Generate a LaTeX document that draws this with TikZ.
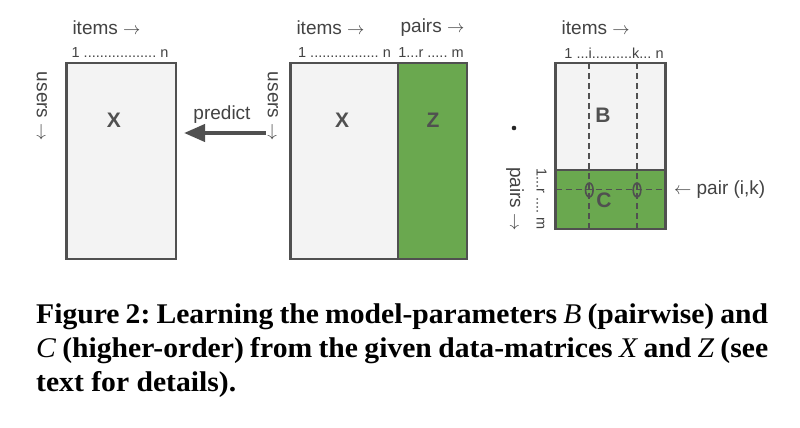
\documentclass[tikz,border=0pt]{standalone}
\usepackage{fontspec}
\setmainfont{Liberation Serif}
\setsansfont{Liberation Sans}
\newfontfamily\capfont[FakeStretch=1.04]{Liberation Serif}
\usetikzlibrary{arrows.meta}
\definecolor{edgec}{HTML}{505050}
\definecolor{lgray}{HTML}{F3F3F3}
\definecolor{mgreen}{HTML}{6AA84F}
\definecolor{txtc}{HTML}{434343}
\newcommand{\ra}{\ensuremath{\rightarrow}}
\newcommand{\la}{\ensuremath{\leftarrow}}
\frenchspacing
\begin{document}
\begin{tikzpicture}[x=1pt,y=-1pt,
  mat/.style={draw=edgec, line width=2.8pt, inner sep=0pt, outer sep=0pt},
  lbl/.style={font=\sffamily\fontsize{19}{20}\selectfont, text=txtc, inner sep=0pt},
  idx/.style={font=\sffamily\fontsize{14.5}{15}\selectfont, text=txtc, inner sep=0pt},
  big/.style={font=\sffamily\bfseries\fontsize{21}{22}\selectfont, text=edgec, inner sep=0pt},
  dsh/.style={draw=edgec, line width=1.7pt, dash pattern=on 6pt off 4pt},
  capl/.style={font=\capfont\bfseries\fontsize{28.5}{33}\selectfont, anchor=base west, inner sep=0pt}]
\useasboundingbox (0,0) rectangle (800,428);
\fill[white] (0,0) rectangle (800,428);

% left matrix
\node[mat, fill=lgray, minimum width=109.3pt, minimum height=196pt] (XL) at (121.35,161) {};
\node[big] (XLt) at (114,120) {X};
\node[lbl] (itL) at (106.5,28) {items \ra};
\node[idx] (ixL) at (120,53) {1 .................. n};
\node[lbl, rotate=-90] (usL) at (42,106.5) {users \ra};

% middle matrix
\node[mat, fill=lgray, minimum width=107.3pt, minimum height=196pt] (XM) at (344.35,161) {};
\node[mat, fill=mgreen, minimum width=69pt, minimum height=196pt] (ZM) at (432.5,161) {};
\node[big] (XMt) at (342,120) {X};
\node[big] (ZMt) at (433,120) {Z};
\node[lbl] (itM) at (330.5,28) {items \ra};
\node[lbl] (paM) at (432.5,28) {pairs \ra};
\node[idx] (ixM) at (344.5,53) {1 ................. n};
\node[idx] (pxM) at (431,53) {1...r ..... m};
\node[lbl, rotate=-90] (usM) at (273,106.5) {users \ra};

% predict arrow
\coordinate (predS) at (266,133);
\draw[edgec, line width=4pt, -{Triangle[length=21pt, width=17pt]}] (predS) -- (XL.east |- predS) [shorten >=8pt];
\node[lbl] (pred) at (222,115) {predict};

% right matrix
\node[mat, fill=lgray, minimum width=110pt, minimum height=107pt] (BR) at (610.7,116.5) {};
\node[mat, fill=mgreen, minimum width=110pt, minimum height=59pt] (CR) at (610.7,199.5) {};
\coordinate (vi) at (589.3,0);
\coordinate (vk) at (637,0);
\coordinate (hr) at (0,189.5);
\draw[dsh] (vi |- BR.north) -- (vi |- CR.south);
\draw[dsh] (vk |- BR.north) -- (vk |- CR.south);
\draw[dsh] (CR.west |- hr) -- (CR.east |- hr);
\draw[edgec, line width=1.6pt] (589.3,190) ellipse [x radius=3.8pt, y radius=7pt];
\draw[edgec, line width=1.6pt] (637,190) ellipse [x radius=3.8pt, y radius=7pt];
\node[big] (Bt) at (603,115) {B};
\node[big] (Ct) at (604,200) {C};
\node[lbl] (itR) at (595.7,28) {items \ra};
\node[idx] (ixR) at (614,53) {1 ...i..........k... n};
\fill[black!85] (514,128) circle (2.3pt);
\node[lbl, rotate=-90] (paR) at (515,199) {pairs \ra};
\node[idx, rotate=-90] (pxR) at (541.7,199) {1...r .... m};
\node[lbl] (pik) at (719.7,190) {\la\ pair (i,k)};

% caption
\node[capl] (cap1) at (36,323) {\makebox[732pt][s]{Figure 2: Learning the model-parameters {\mdseries\itshape B} (pairwise) and}};
\node[capl] (cap2) at (36,357) {\makebox[732pt][s]{{\mdseries\itshape C} (higher-order) from the given data-matrices {\mdseries\itshape X} and {\mdseries\itshape Z} (see}};
\node[capl] (cap3) at (36,391) {text for details).};
\end{tikzpicture}
\end{document}
